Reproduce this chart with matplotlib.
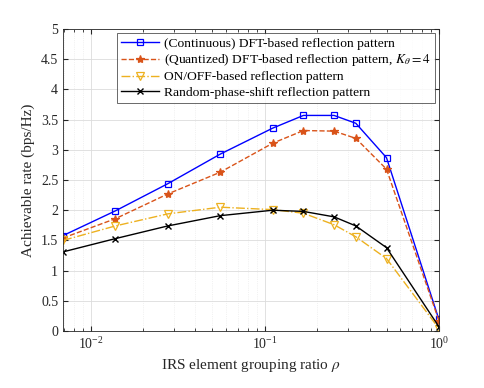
import numpy as np
import matplotlib
matplotlib.use('Agg')
import matplotlib.pyplot as plt
from matplotlib.ticker import LogLocator, MultipleLocator, FuncFormatter, NullFormatter

plt.rcParams['font.family'] = ['Liberation Serif', 'DejaVu Serif']
plt.rcParams['mathtext.fontset'] = 'stix'

# grouping ratios
rho = [1/144, 1/72, 1/36, 1/18, 1/9, 1/6, 1/4, 1/3, 1/2, 1]

rate_cont = [1.58, 1.99, 2.44, 2.93, 3.36, 3.57, 3.57, 3.44, 2.87, 0.19]
rate_quant = [1.54, 1.86, 2.27, 2.63, 3.11, 3.32, 3.31, 3.19, 2.68, 0.17]
rate_onoff = [1.50, 1.74, 1.94, 2.05, 2.01, 1.95, 1.76, 1.56, 1.20, 0.04]
rate_random = [1.31, 1.53, 1.74, 1.91, 2.00, 1.98, 1.89, 1.74, 1.38, 0.07]

labels = ['(Continuous) DFT-based reflection pattern',
          '(Quantized) DFT-based reflection pattern, $K_\\theta = 4$',
          'ON/OFF-based reflection pattern',
          'Random-phase-shift reflection pattern']

fig = plt.figure(figsize=(4.85, 3.88), dpi=100)
ax = fig.add_axes([0.130, 0.147, 0.775, 0.778])

ax.plot(rho, rate_cont, '-', color='#0000FF', marker='s', ms=5, mfc='none', mew=0.9, lw=1.0, label=labels[0])
ax.plot(rho, rate_quant, '--', color='#D95319', marker='*', ms=6, mew=0.9, lw=1.0, label=labels[1])
ax.plot(rho, rate_onoff, '-.', color='#EDB120', marker='v', ms=6, mfc='none', mew=0.9, lw=1.0, label=labels[2])
ax.plot(rho, rate_random, '-', color='black', marker='x', ms=4, mew=1.0, lw=1.0, label=labels[3])

ax.set_xscale('log')
ax.set_xlim(1/144, 1)
ax.set_ylim(0, 5)
ax.yaxis.set_major_locator(MultipleLocator(0.5))
ax.yaxis.set_major_formatter(FuncFormatter(lambda v, p: f'{v:g}'))
ax.xaxis.set_major_locator(LogLocator(base=10))
ax.xaxis.set_minor_locator(LogLocator(base=10, subs=np.arange(2, 10)))
ax.xaxis.set_minor_formatter(NullFormatter())

ax.grid(True, which='major', color='#DCDCDC', lw=0.6)
ax.grid(True, which='minor', axis='x', color='#E6E6E6', lw=0.5, ls=':')
ax.set_axisbelow(True)
ax.tick_params(which='both', direction='in', top=True, right=True, labelsize=10, colors='#262626')
ax.tick_params(which='major', length=3.5)
ax.tick_params(which='minor', length=2)
for s in ax.spines.values():
    s.set_color('#262626')
    s.set_linewidth(0.6)

ax.set_xlabel('IRS element grouping ratio $\\rho$', fontsize=11, color='#262626')
ax.set_ylabel('Achievable rate (bps/Hz)', fontsize=11, color='#262626')

leg = ax.legend(loc='upper right', fontsize=9.7, frameon=True, fancybox=False, edgecolor='#262626',
                handlelength=2.8, borderpad=0.3, labelspacing=0.2, handletextpad=0.4, borderaxespad=0.3)
leg.get_frame().set_linewidth(0.6)

fig.savefig('out.png', dpi=100)
